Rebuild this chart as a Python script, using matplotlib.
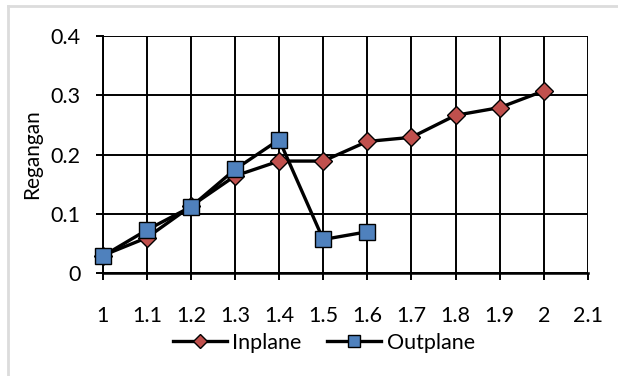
import matplotlib
matplotlib.use("Agg")
import matplotlib.pyplot as plt
from matplotlib.lines import Line2D

# Load factor (x) and strain readings for each direction
x_inplane = [1.0, 1.1, 1.2, 1.3, 1.4, 1.5, 1.6, 1.7, 1.8, 1.9, 2.0]
inplane = [0.030, 0.060, 0.113, 0.164, 0.189, 0.189, 0.222, 0.229, 0.266, 0.279, 0.307]
x_outplane = [1.0, 1.1, 1.2, 1.3, 1.4, 1.5, 1.6]
outplane = [0.029, 0.073, 0.112, 0.175, 0.225, 0.057, 0.070]

x_ticks = [1, 1.1, 1.2, 1.3, 1.4, 1.5, 1.6, 1.7, 1.8, 1.9, 2, 2.1]
x_tick_labels = ["1", "1.1", "1.2", "1.3", "1.4", "1.5", "1.6", "1.7", "1.8", "1.9", "2", "2.1"]
y_ticks = [0, 0.1, 0.2, 0.3, 0.4]
y_tick_labels = ["0", "0.1", "0.2", "0.3", "0.4"]

plt.rcParams["font.family"] = ["Lato", "DejaVu Sans"]

fig = plt.figure(figsize=(6.18, 3.76), dpi=100)
ax = fig.add_axes([0.1663, 0.273, 0.7848, 0.632])

ax.plot(x_inplane, inplane, color="black", lw=2.4, marker="D", ms=9.5,
        mfc="#C0504D", mec="black", mew=1.0, clip_on=False, zorder=3,
        label="Inplane")
ax.plot(x_outplane, outplane, color="black", lw=2.4, marker="s", ms=11,
        mfc="#4F81BD", mec="black", mew=1.0, clip_on=False, zorder=4,
        label="Outplane")

ax.set_xlim(1, 2.1)
ax.set_ylim(0, 0.4)
ax.set_xticks(x_ticks)
ax.set_xticklabels(x_tick_labels)
ax.set_yticks(y_ticks)
ax.set_yticklabels(y_tick_labels)
ax.grid(True, color="black", lw=1.4)
ax.set_axisbelow(True)

for side in ("top", "right"):
    ax.spines[side].set_visible(False)
ax.spines["left"].set_linewidth(1.4)
ax.spines["bottom"].set_linewidth(1.8)

ax.tick_params(axis="x", direction="out", length=5, width=1.4, pad=18.5,
               labelsize=15.5)
ax.tick_params(axis="y", direction="out", length=5, width=1.4, pad=11,
               labelsize=15.5)

ax.set_ylabel("Regangan", fontsize=15, labelpad=6)

ax.legend(loc="center", bbox_to_anchor=(0.456, -0.292), ncol=2,
          frameon=False, fontsize=15.5, handlelength=2.5, handletextpad=0.25,
          columnspacing=1.2, borderaxespad=0, markerscale=0.75)

# light border along the top and left of the chart area
fig.add_artist(Line2D([0.013, 1.0], [0.984, 0.984], transform=fig.transFigure,
                      color="#dcdcdc", lw=2))
fig.add_artist(Line2D([0.013, 0.013], [0.0, 0.984], transform=fig.transFigure,
                      color="#dcdcdc", lw=2))

fig.savefig("out.png", dpi=100)
